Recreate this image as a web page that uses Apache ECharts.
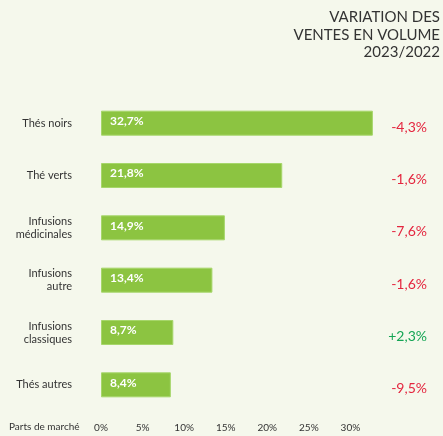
<!DOCTYPE html>
<html>
<head>
<meta charset="utf-8">
<script src="https://cdn.jsdelivr.net/npm/echarts@6/dist/echarts.min.js"></script>
<style>
  html, body { margin: 0; padding: 0; background: #f5f8ec; }
  #chart { width: 443px; height: 436px; }
</style>
</head>
<body>
<div id="chart"></div>
<script>
// catégories (du haut vers le bas)
const categories = ["Thés noirs", "Thé verts", "Infusions\nmédicinales", "Infusions\nautre", "Infusions\nclassiques", "Thés autres"];
// parts de marché (%)
const shares = [32.7, 21.8, 14.9, 13.4, 8.7, 8.4];
// variation des ventes en volume 2023/2022 (%)
const variations = [-4.3, -1.6, -7.6, -1.6, 2.3, -9.5];
const xTicks = [0, 5, 10, 15, 20, 25, 30];
const titleLines = ["VARIATION DES", "VENTES EN VOLUME", "2023/2022"];

const fr = v => v.toFixed(1).replace(".", ",");

const chart = echarts.init(document.getElementById("chart"));

// titre aligné à droite, ligne par ligne
const titleGraphics = titleLines.map((t, i) => ({
  type: "text",
  right: 3,
  top: 10 + i * 17.5,
  style: { text: t, font: "15px Lato", fill: "#333333" }
}));

const option = {
  backgroundColor: "#f5f8ec",
  textStyle: { fontFamily: "Lato" },
  graphic: titleGraphics.concat([
    {
      type: "text",
      left: 9,
      top: 422,
      style: { text: "Parts de marché", font: "10px Lato", fill: "#333333" }
    }
  ]),
  grid: { left: 101, right: 51, top: 97, bottom: 25, containLabel: false },
  xAxis: {
    type: "value",
    min: 0,
    max: 35,
    interval: 5,
    axisLine: { show: false },
    axisTick: { show: false },
    splitLine: { show: false },
    axisLabel: {
      margin: 12,
      fontSize: 10,
      color: "#333333",
      formatter: v => (xTicks.indexOf(v) >= 0 ? v + "%" : "")
    }
  },
  yAxis: [
    {
      type: "category",
      data: categories,
      inverse: true,
      axisLine: { show: false },
      axisTick: { show: false },
      axisLabel: {
        margin: 29,
        fontSize: 11,
        color: "#333333",
        align: "right",
        lineHeight: 13
      }
    },
    {
      type: "category",
      data: variations.map(fr),
      inverse: true,
      position: "right",
      axisLine: { show: false },
      axisTick: { show: false },
      axisLabel: {
        margin: 35,
        align: "right",
        padding: [8, 0, 0, 0],
        formatter: (v, i) => {
          const n = variations[i];
          return n > 0 ? "{up|+" + v + "%}" : "{down|" + v + "%}";
        },
        rich: {
          up: { color: "#15a555", fontSize: 14, fontFamily: "Lato" },
          down: { color: "#e4263f", fontSize: 14, fontFamily: "Lato" }
        }
      }
    }
  ],
  series: [
    {
      type: "bar",
      data: shares,
      yAxisIndex: 0,
      barWidth: 25,
      itemStyle: { color: "#8cc441", borderColor: "#a6d66a", borderWidth: 1 },
      label: {
        show: true,
        position: "insideLeft",
        distance: 9,
        color: "#ffffff",
        fontWeight: "bold",
        fontSize: 12,
        offset: [0, -2],
        formatter: p => fr(p.value) + "%"
      }
    }
  ]
};

chart.setOption(option);
</script>
</body>
</html>
